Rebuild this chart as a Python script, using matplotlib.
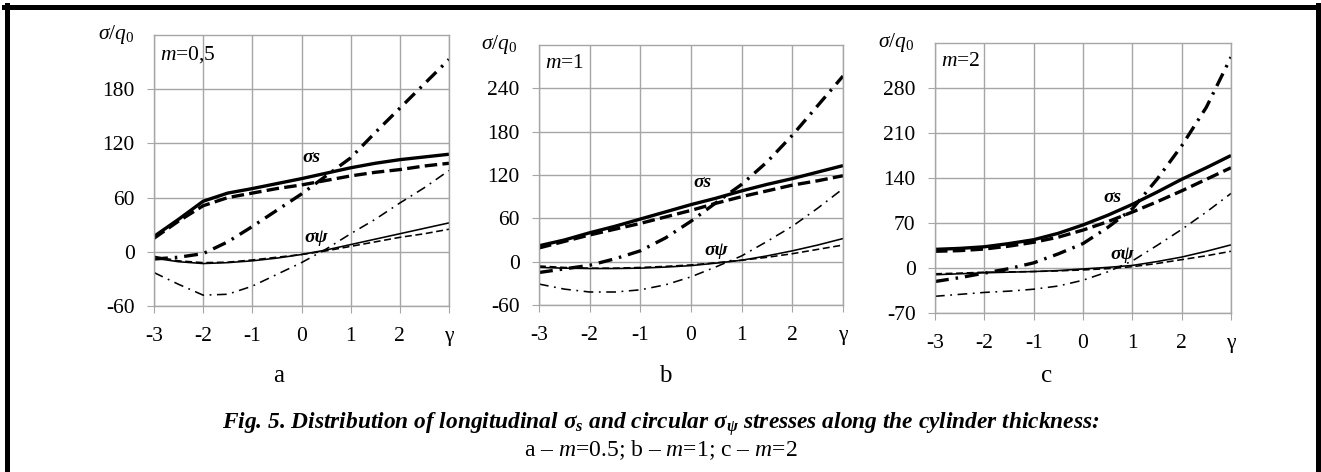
import numpy as np
import matplotlib
matplotlib.use("Agg")
import matplotlib.pyplot as plt
from matplotlib.lines import Line2D

plt.rcParams['font.family'] = ['Liberation Serif', 'DejaVu Serif']
plt.rcParams['mathtext.fontset'] = 'custom'
plt.rcParams['mathtext.rm'] = 'Liberation Serif'
plt.rcParams['mathtext.it'] = 'Liberation Serif:italic'
plt.rcParams['mathtext.bf'] = 'Liberation Serif:bold'
plt.rcParams['mathtext.bfit'] = 'Liberation Serif:bold:italic'
plt.rcParams['lines.scale_dashes'] = False
plt.rcParams['axes.unicode_minus'] = False

# gamma positions along the thickness
gamma = [-3, -2.5, -2, -1.5, -1, -0.5, 0, 0.5, 1, 1.5, 2, 2.5, 3]
x_ticks = [-3, -2, -1, 0, 1, 2, 3]
x_labels = ['-3', '-2', '-1', '0', '1', '2', 'γ']

# m = 0.5
a_s_solid = [17, 36, 56, 65, 70, 75.5, 81, 87, 93, 98, 102, 105, 108]
a_s_dash = [15, 34, 51, 60, 65, 70, 74, 79, 84, 88, 91, 95, 98]
a_s_dashdot = [-8, -6, -2, 11, 28, 46, 64, 84, 104, 132, 159, 186, 213]
a_p_solid = [-7, -11, -13, -12, -10, -7, -3, 2, 8, 14, 20, 26, 32]
a_p_dash = [-5, -10, -12, -11.5, -9, -6, -3, 1, 6, 11, 16, 20, 25]
a_p_dashdot = [-23, -36, -48, -47, -38, -25, -12, 3, 20, 36, 54, 71, 90]

# m = 1
b_s_solid = [22, 30, 40, 49, 59, 69, 79, 88, 98, 107, 115, 124, 133]
b_s_dash = [19, 28, 37, 45, 53, 62, 71, 81, 90, 98, 106, 112, 119]
b_s_dashdot = [-15, -10, -5, 4, 15, 33, 56, 82, 107, 138, 175, 216, 257]
b_p_solid = [-8, -9, -9.5, -9.5, -9, -7.5, -5.5, -2, 2, 8, 15, 23, 32]
b_p_dash = [-6, -8, -9, -9, -8, -6.5, -4.5, -1.5, 2, 6, 11, 17, 23]
b_p_dashdot = [-31, -38, -42, -42, -39, -32, -21, -7, 8, 28, 49, 74, 101]

# m = 2
c_s_solid = [29, 30.5, 33, 38, 44, 54, 67, 82, 99, 118, 138, 156, 175]
c_s_dash = [26, 27, 29.5, 34, 40, 48, 59, 72, 87, 103, 120, 138, 156]
c_s_dashdot = [-21, -15, -8, -1, 8, 22, 38, 63, 92, 138, 190, 250, 328]
c_p_solid = [-10.5, -9, -7.5, -6.5, -5.5, -4, -1.5, 1, 4, 10, 17, 26, 36]
c_p_dash = [-9, -8, -6.5, -6, -5.5, -4.5, -3, -1, 2, 7, 13, 19, 26]
c_p_dashdot = [-44, -41, -38, -36, -33, -28, -19, -6, 11, 35, 60, 87, 116]

panels = [
    dict(series=[a_s_solid, a_s_dash, a_s_dashdot, a_p_solid, a_p_dash, a_p_dashdot],
         yticks=[-60, 0, 60, 120, 180], ylim=(-60, 240), m='$m$=0,5',
         s_pos=(0.2, 104), p_pos=(0.3, 16), letter='a',
         box=(154, 35, 449, 306), letter_x=279),
    dict(series=[b_s_solid, b_s_dash, b_s_dashdot, b_p_solid, b_p_dash, b_p_dashdot],
         yticks=[-60, 0, 60, 120, 180, 240], ylim=(-60, 300), m='$m$=1',
         s_pos=(0.22, 110), p_pos=(0.5, 16), letter='b',
         box=(539, 45, 843, 305), letter_x=665),
    dict(series=[c_s_solid, c_s_dash, c_s_dashdot, c_p_solid, c_p_dash, c_p_dashdot],
         yticks=[-70, 0, 70, 140, 210, 280], ylim=(-70, 350), m='$m$=2',
         s_pos=(0.6, 110), p_pos=(0.8, 21), letter='c',
         box=(935, 43, 1231, 313), letter_x=1047),
]

styles = [
    dict(lw=2.4, ls='-'),
    dict(lw=2.4, dashes=(9, 3.8)),
    dict(lw=2.4, dashes=(10, 5, 1.8, 5)),
    dict(lw=1.15, ls='-'),
    dict(lw=1.15, dashes=(5, 2.6)),
    dict(lw=1.15, dashes=(7, 4, 1.3, 4)),
]

W, H = 1321, 472
fig = plt.figure(figsize=(W / 100, H / 100), dpi=100)
grid_col = '#a6a6a6'

for p in panels:
    x0, y0, x1, y1 = p['box']
    ax = fig.add_axes([x0 / W, 1 - y1 / H, (x1 - x0) / W, (y1 - y0) / H])
    for vals, st in zip(p['series'], styles):
        ax.plot(gamma, vals, color='black', solid_capstyle='butt',
                dash_capstyle='butt', **st)
    ax.set_xlim(-3, 3)
    ax.set_ylim(*p['ylim'])
    ax.set_xticks(x_ticks)
    ax.set_xticklabels(x_labels)
    ax.set_yticks(p['yticks'])
    ax.grid(True, color=grid_col, lw=1.0)
    ax.set_axisbelow(True)
    for sp in ax.spines.values():
        sp.set_color(grid_col)
        sp.set_linewidth(1.0)
    ax.tick_params(axis='x', length=5, color=grid_col, pad=10, labelsize=15.5)
    ax.tick_params(axis='y', length=5, color=grid_col, pad=9, labelsize=15.5)
    ax.text(0.02, 0.965, p['m'], transform=ax.transAxes, fontsize=15.5,
            ha='left', va='top')
    ax.text(-0.13, 1.0, r'$\sigma/q_0$', transform=ax.transAxes, fontsize=15.5,
            ha='center', va='center')
    ax.text(*p['s_pos'], 'σs', fontsize=14, style='italic', weight='bold',
            ha='center', va='center')
    ax.text(*p['p_pos'], 'σψ', fontsize=14, style='italic', weight='bold',
            ha='center', va='center')
    fig.text(p['letter_x'] / W, 1 - 376 / H, p['letter'], fontsize=18,
             ha='center', va='center')

fig.text(0.5, 1 - 424 / H,
         r'Fig. 5. Distribution of longitudinal $\mathbfit{\sigma}_{\mathbfit{s}}$ and circular '
         r'$\mathbfit{\sigma}_{\mathbfit{\psi}}$ stresses along the cylinder thickness:',
         fontsize=16.8, weight='bold', style='italic', ha='center', va='center')
fig.text(0.5, 1 - 450 / H, 'a – $m$=0.5; b – $m$=1; c – $m$=2',
         fontsize=17, ha='center', va='center')

# frame around the figure
for xs, ys in [((4, 1317), (7, 7)), ((6.5, 6.5), (5, 472)), ((1318, 1318), (5, 472))]:
    fig.add_artist(Line2D([v / W for v in xs], [1 - v / H for v in ys],
                          color='black', lw=3.6, transform=fig.transFigure))

fig.savefig('out.png', dpi=100)
